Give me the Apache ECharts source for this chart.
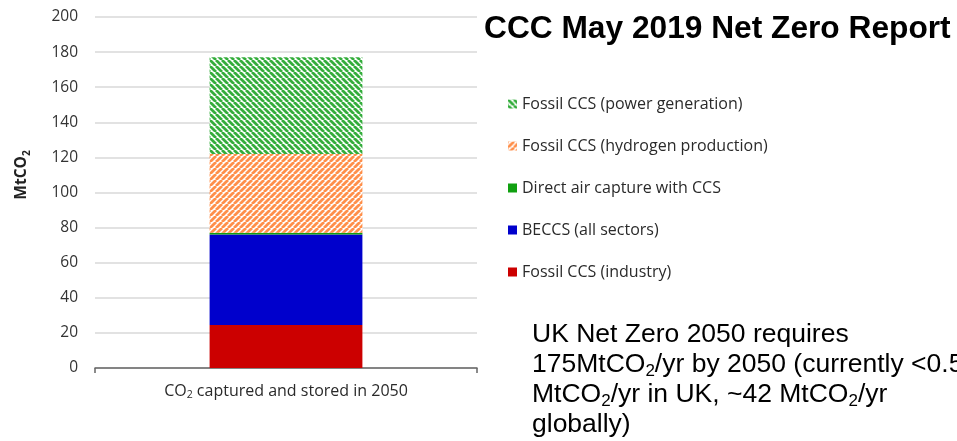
<!DOCTYPE html>
<html>
<head>
<meta charset="utf-8">
<script src="https://cdn.jsdelivr.net/npm/echarts@6/dist/echarts.min.js"></script>
<style>html,body{margin:0;padding:0;background:#fff;}#c{width:957px;height:441px;}</style>
</head>
<body>
<div id="c"></div>
<script>
// ---- data ----
const categories = ['CO2 captured and stored in 2050'];
const seriesNames = ['Fossil CCS (industry)', 'BECCS (all sectors)', 'Direct air capture with CCS', 'Fossil CCS (hydrogen production)', 'Fossil CCS (power generation)'];
const industry = [24.5];
const beccs = [51.5];
const dac = [1];
const hydrogen = [45];
const power = [55];
const yTicks = { min: 0, max: 200, interval: 20 };
const legendOrder = ['Fossil CCS (power generation)', 'Fossil CCS (hydrogen production)', 'Direct air capture with CCS', 'BECCS (all sectors)', 'Fossil CCS (industry)'];

function stripes(color, dir) {
  const s = 6;
  const c = document.createElement('canvas');
  c.width = s; c.height = s;
  const ctx = c.getContext('2d');
  ctx.fillStyle = '#ffffff';
  ctx.fillRect(0, 0, s, s);
  ctx.strokeStyle = color;
  ctx.lineWidth = 2.8;
  ctx.beginPath();
  for (let k = -1; k <= 1; k++) {
    if (dir === 'down') {
      ctx.moveTo(k * s, 0); ctx.lineTo(k * s + s, s);
    } else {
      ctx.moveTo(k * s, s); ctx.lineTo(k * s + s, 0);
    }
  }
  ctx.stroke();
  return { image: c, repeat: 'repeat' };
}

const greenPattern = stripes('#34ad3c', 'down');
const orangePattern = stripes('#ff8f4a', 'up');

const chart = echarts.init(document.getElementById('c'), null, { renderer: 'canvas' });
const font = 'Open Sans';
const mk = (name, data, color) => ({
  name, type: 'bar', stack: 'total', data, barWidth: '40%',
  itemStyle: { color }, emphasis: { disabled: true }
});

chart.setOption({
  animation: false,
  textStyle: { fontFamily: font },
  grid: { left: 95, right: 480, top: 17, bottom: 73 },
  legend: {
    data: legendOrder,
    orient: 'vertical',
    left: 503,
    top: 91,
    itemWidth: 9,
    itemHeight: 9,
    itemGap: 26,
    icon: 'rect',
    textStyle: { fontFamily: font, fontSize: 16, lineHeight: 16, color: '#2a2a2a' }
  },
  xAxis: {
    type: 'category',
    data: categories,
    axisLine: { lineStyle: { color: '#666666', width: 1.5 } },
    axisTick: { show: true, length: 5, lineStyle: { color: '#666666', width: 1.5 } },
    axisLabel: {
      margin: 13,
      formatter: function () { return '{a|CO}{s|2}{a| captured and stored in 2050}'; },
      rich: {
        a: { fontFamily: font, fontSize: 16, color: '#2a2a2a', lineHeight: 20 },
        s: { fontFamily: font, fontSize: 10.5, color: '#2a2a2a', lineHeight: 13, verticalAlign: 'bottom' }
      }
    }
  },
  yAxis: {
    type: 'value',
    min: yTicks.min, max: yTicks.max, interval: yTicks.interval,
    axisLine: { show: false },
    axisTick: { show: false },
    axisLabel: { margin: 17, fontFamily: font, fontSize: 15.5, color: '#333333' },
    splitLine: { lineStyle: { color: '#d9d9d9', width: 1.5 } }
  },
  series: [
    mk(seriesNames[0], industry, '#cc0000'),
    mk(seriesNames[1], beccs, '#0000cc'),
    mk(seriesNames[2], dac, '#10a010'),
    mk(seriesNames[3], hydrogen, orangePattern),
    mk(seriesNames[4], power, greenPattern)
  ],
  graphic: [
    {
      type: 'text', x: 22, y: 175, rotation: Math.PI / 2,
      style: {
        text: '{a|MtCO}{s|2}', align: 'center', verticalAlign: 'middle',
        rich: {
          a: { fontFamily: font, fontSize: 15.5, fontWeight: 'bold', fill: '#222222', lineHeight: 20 },
          s: { fontFamily: font, fontSize: 10, fontWeight: 'bold', fill: '#222222', lineHeight: 13, verticalAlign: 'bottom' }
        }
      }
    },
    {
      type: 'text', left: 484, top: 13,
      style: { text: 'CCC May 2019 Net Zero Report', fontFamily: 'Liberation Sans', fontWeight: 'bold', fontSize: 31.7, fill: '#000000' }
    },
    {
      type: 'text', left: 532, top: 321,
      style: {
        text: '{a|UK Net Zero 2050 requires}\n{a|175MtCO}{s|2}{a|/yr by 2050 (currently <0.5}\n{a|MtCO}{s|2}{a|/yr in UK, ~42 MtCO}{s|2}{a|/yr}\n{a|globally)}',
        rich: {
          a: { fontFamily: 'Liberation Sans', fontSize: 26.5, fill: '#000000', lineHeight: 30 },
          s: { fontFamily: 'Liberation Sans', fontSize: 17, fill: '#000000', lineHeight: 16, verticalAlign: 'bottom' }
        }
      }
    }
  ]
});
</script>
</body>
</html>
